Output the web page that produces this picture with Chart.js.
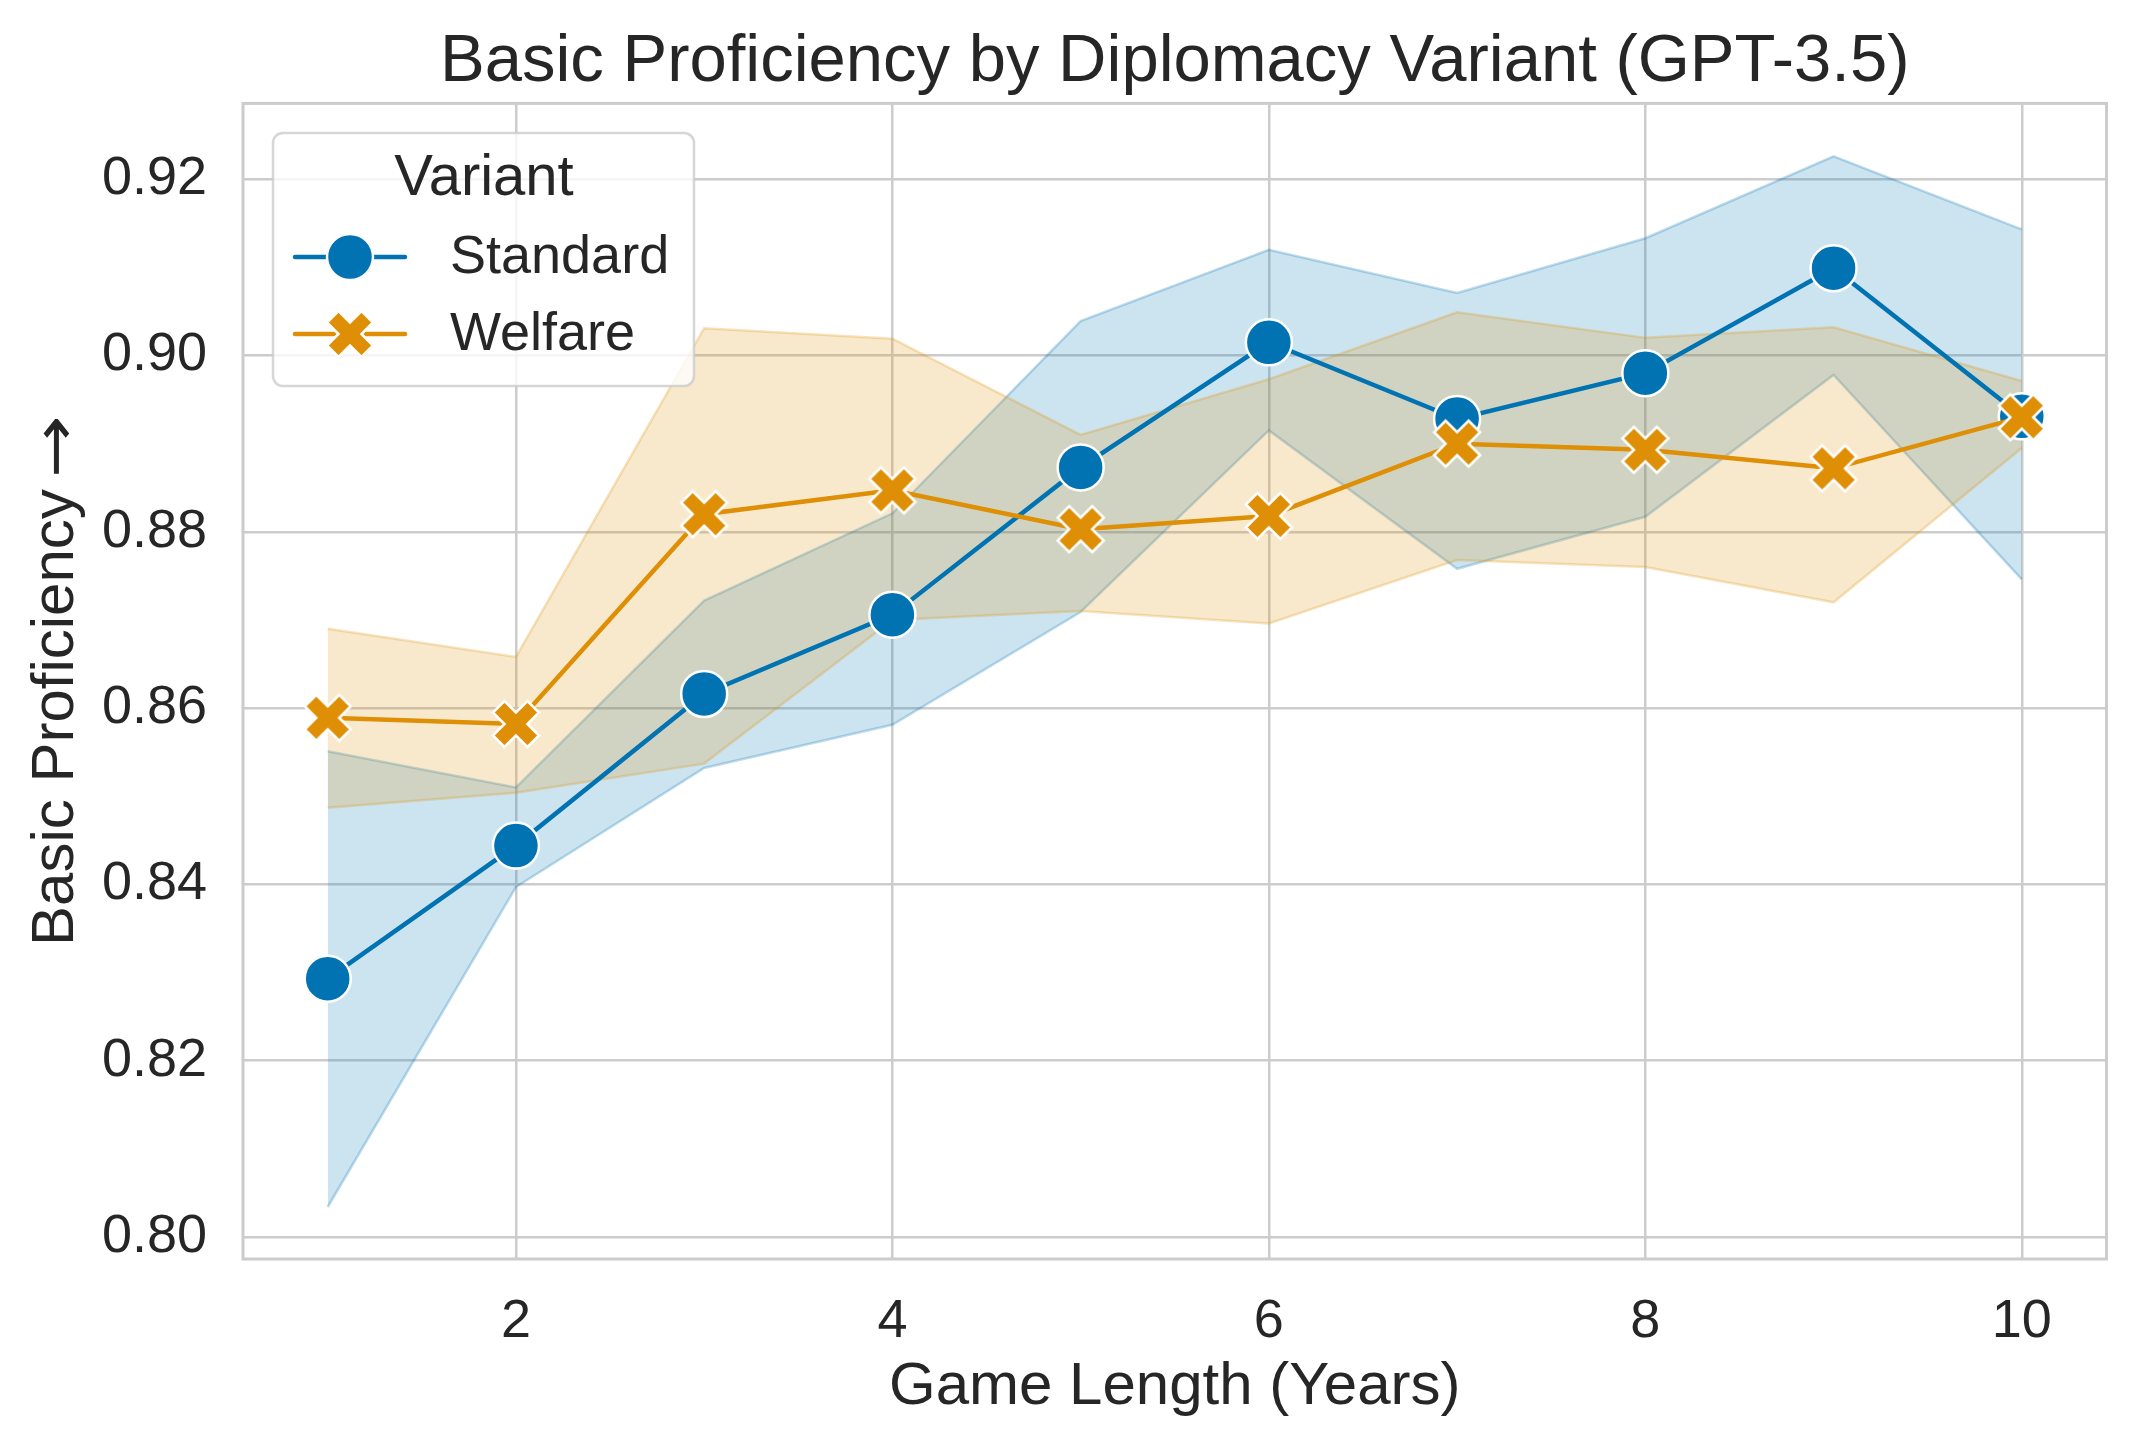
<!DOCTYPE html>
<html>
<head>
<meta charset="utf-8">
<script src="https://cdn.jsdelivr.net/npm/chart.js@4/dist/chart.umd.min.js"></script>
<style>
  html, body { margin: 0; padding: 0; background: #fff; }
  canvas { display: block; }
</style>
</head>
<body>
<canvas id="chart" width="2134" height="1447"></canvas>
<script>
// data
const years = [1, 2, 3, 4, 5, 6, 7, 8, 9, 10];
const seriesNames = ["Standard", "Welfare"];
const standardMean = [0.8293, 0.8444, 0.8616, 0.8706, 0.8873, 0.9015, 0.8928, 0.8980, 0.9099, 0.8931];
const standardUpper = [0.8551, 0.8510, 0.8722, 0.8821, 0.9039, 0.9120, 0.9071, 0.9133, 0.9226, 0.9143];
const standardLower = [0.8034, 0.8397, 0.8532, 0.8581, 0.8709, 0.8915, 0.8758, 0.8817, 0.8978, 0.8746];
const welfareMean = [0.8589, 0.8582, 0.8820, 0.8847, 0.8803, 0.8818, 0.8900, 0.8893, 0.8872, 0.8930];
const welfareUpper = [0.8690, 0.8658, 0.9031, 0.9019, 0.8910, 0.8973, 0.9049, 0.9020, 0.9032, 0.8971];
const welfareLower = [0.8487, 0.8504, 0.8537, 0.8700, 0.8710, 0.8696, 0.8768, 0.8760, 0.8720, 0.8895];
const xTicks = [2, 4, 6, 8, 10];
const yTicks = [0.80, 0.82, 0.84, 0.86, 0.88, 0.90, 0.92];

const BLUE = "#0173B2";
const ORANGE = "#DE8F05";
const FONT = "'Liberation Sans', Arial, sans-serif";
const TEXT = "#262626";
const GRID = "#cccccc";

function pts(ys) {
  return years.map((x, i) => ({ x: x, y: ys[i] }));
}

function rgba(hex, a) {
  const n = parseInt(hex.slice(1), 16);
  return "rgba(" + (n >> 16) + "," + ((n >> 8) & 255) + "," + (n & 255) + "," + a + ")";
}

// filled "X" marker like matplotlib's
function makeXMarker(size, color) {
  const c = document.createElement("canvas");
  const dim = Math.ceil(size + 8);
  c.width = dim;
  c.height = dim;
  const ctx = c.getContext("2d");
  ctx.translate(dim / 2, dim / 2);
  const p = [[0.25, 0], [0.5, 0.25], [0.25, 0.5], [0, 0.25], [-0.25, 0.5], [-0.5, 0.25],
    [-0.25, 0], [-0.5, -0.25], [-0.25, -0.5], [0, -0.25], [0.25, -0.5], [0.5, -0.25]];
  ctx.beginPath();
  p.forEach(([a, b], i) => {
    if (i) ctx.lineTo(a * size, b * size);
    else ctx.moveTo(a * size, b * size);
  });
  ctx.closePath();
  ctx.fillStyle = color;
  ctx.fill();
  ctx.strokeStyle = "#fff";
  ctx.lineWidth = 2.5;
  ctx.lineJoin = "miter";
  ctx.stroke();
  return c;
}

const xMarker = makeXMarker(46, ORANGE);

function band(ys, color, fill, order) {
  return {
    data: pts(ys),
    borderColor: rgba(color, 0.25),
    borderWidth: 2.5,
    backgroundColor: rgba(color, 0.2),
    pointRadius: 0,
    fill: fill,
    order: order,
    tension: 0
  };
}

// frame around the plot area (matplotlib spines)
const framePlugin = {
  id: "frame",
  afterDatasetsDraw(chart) {
    const a = chart.chartArea;
    const ctx = chart.ctx;
    ctx.save();
    ctx.strokeStyle = GRID;
    ctx.lineWidth = 3;
    ctx.strokeRect(a.left, a.top, a.right - a.left, a.bottom - a.top);
    ctx.restore();
  }
};

// y label: text in Liberation Sans, then a long arrow (DejaVu glyph, stretched)
const yLabelPlugin = {
  id: "yLabel",
  afterDraw(chart) {
    const ctx = chart.ctx;
    ctx.save();
    ctx.translate(73, 946);
    ctx.rotate(-Math.PI / 2);
    ctx.fillStyle = TEXT;
    ctx.textAlign = "left";
    ctx.textBaseline = "alphabetic";
    ctx.font = "60px " + FONT;
    ctx.fillText("Basic Proficiency", 0, 0);

    ctx.font = "60px 'DejaVu Sans'";
    const m = ctx.measureText("\u2192");
    const inkW = m.actualBoundingBoxLeft + m.actualBoundingBoxRight;
    ctx.translate(472, -17);
    ctx.scale(56 / inkW, 1);
    ctx.fillText("\u2192", m.actualBoundingBoxLeft,
      (m.actualBoundingBoxAscent - m.actualBoundingBoxDescent) / 2);
    ctx.restore();
  }
};

// legend box in the upper left, with title
const legendPlugin = {
  id: "boxLegend",
  afterDraw(chart) {
    const ctx = chart.ctx;
    const x0 = 273, y0 = 133, w = 421, h = 253, r = 10;
    ctx.save();
    ctx.beginPath();
    ctx.roundRect(x0, y0, w, h, r);
    ctx.fillStyle = "rgba(255,255,255,0.8)";
    ctx.fill();
    ctx.strokeStyle = "rgba(204,204,204,0.8)";
    ctx.lineWidth = 2.5;
    ctx.stroke();

    ctx.fillStyle = TEXT;
    ctx.font = "58px " + FONT;
    ctx.textAlign = "center";
    ctx.textBaseline = "middle";
    ctx.fillText("Variant", 484, 179);

    const rows = [257, 334];
    const colors = [BLUE, ORANGE];
    seriesNames.forEach((name, i) => {
      const y = rows[i];
      ctx.strokeStyle = colors[i];
      ctx.lineWidth = 4.5;
      ctx.lineCap = "round";
      ctx.beginPath();
      ctx.moveTo(295, y);
      ctx.lineTo(405, y);
      ctx.stroke();
      if (i === 0) {
        ctx.beginPath();
        ctx.arc(350, y, 23, 0, Math.PI * 2);
        ctx.fillStyle = BLUE;
        ctx.fill();
        ctx.strokeStyle = "#fff";
        ctx.lineWidth = 2.5;
        ctx.stroke();
      } else {
        ctx.drawImage(xMarker, 350 - xMarker.width / 2, y - xMarker.height / 2);
      }
      ctx.fillStyle = TEXT;
      ctx.font = "54px " + FONT;
      ctx.textAlign = "left";
      ctx.fillText(name, 450, y + 1);
    });
    ctx.restore();
  }
};

new Chart(document.getElementById("chart"), {
  type: "line",
  data: {
    datasets: [
      band(welfareUpper, ORANGE, "+1", 3),
      band(welfareLower, ORANGE, false, 3),
      band(standardUpper, BLUE, "+1", 4),
      band(standardLower, BLUE, false, 4),
      {
        label: seriesNames[1],
        data: pts(welfareMean),
        borderColor: ORANGE,
        backgroundColor: ORANGE,
        borderWidth: 4.5,
        pointStyle: xMarker,
        pointRadius: 23,
        fill: false,
        order: 0
      },
      {
        label: seriesNames[0],
        data: pts(standardMean),
        borderColor: BLUE,
        backgroundColor: BLUE,
        borderWidth: 4.5,
        pointStyle: "circle",
        pointRadius: 23,
        pointBorderColor: "#fff",
        pointBorderWidth: 2.5,
        fill: false,
        order: 1
      }
    ]
  },
  options: {
    responsive: false,
    devicePixelRatio: 1,
    animation: false,
    layout: { padding: { left: 0, right: 20, top: 0, bottom: 0 } },
    plugins: {
      legend: { display: false },
      tooltip: { enabled: false },
      title: {
        display: true,
        fullSize: false,
        text: "Basic Proficiency by Diplomacy Variant (GPT-3.5)",
        color: TEXT,
        font: { family: FONT, size: 67, weight: "normal" },
        padding: { top: 22, bottom: 1 }
      }
    },
    scales: {
      x: {
        type: "linear",
        min: 0.55,
        max: 10.45,
        afterBuildTicks: (s) => { s.ticks = xTicks.map(v => ({ value: v })); },
        afterFit: (s) => { s.height = 188; },
        grid: { color: GRID, lineWidth: 2.5, drawTicks: false },
        border: { display: false },
        ticks: {
          color: TEXT,
          font: { family: FONT, size: 54 },
          padding: 31,
          maxRotation: 0,
          callback: (v) => String(v)
        },
        title: {
          display: true,
          text: "Game Length (Years)",
          color: TEXT,
          font: { family: FONT, size: 60 },
          padding: { top: 0, bottom: 24 }
        }
      },
      y: {
        type: "linear",
        min: 0.7975,
        max: 0.9286,
        afterBuildTicks: (s) => { s.ticks = yTicks.map(v => ({ value: v })); },
        afterFit: (s) => { s.width = 243; },
        grid: { color: GRID, lineWidth: 2.5, drawTicks: false },
        border: { display: false },
        ticks: {
          color: TEXT,
          font: { family: FONT, size: 54 },
          padding: 36,
          callback: (v) => Number(v).toFixed(2)
        },
        title: { display: false }
      }
    }
  },
  plugins: [framePlugin, yLabelPlugin, legendPlugin]
});
</script>
</body>
</html>
